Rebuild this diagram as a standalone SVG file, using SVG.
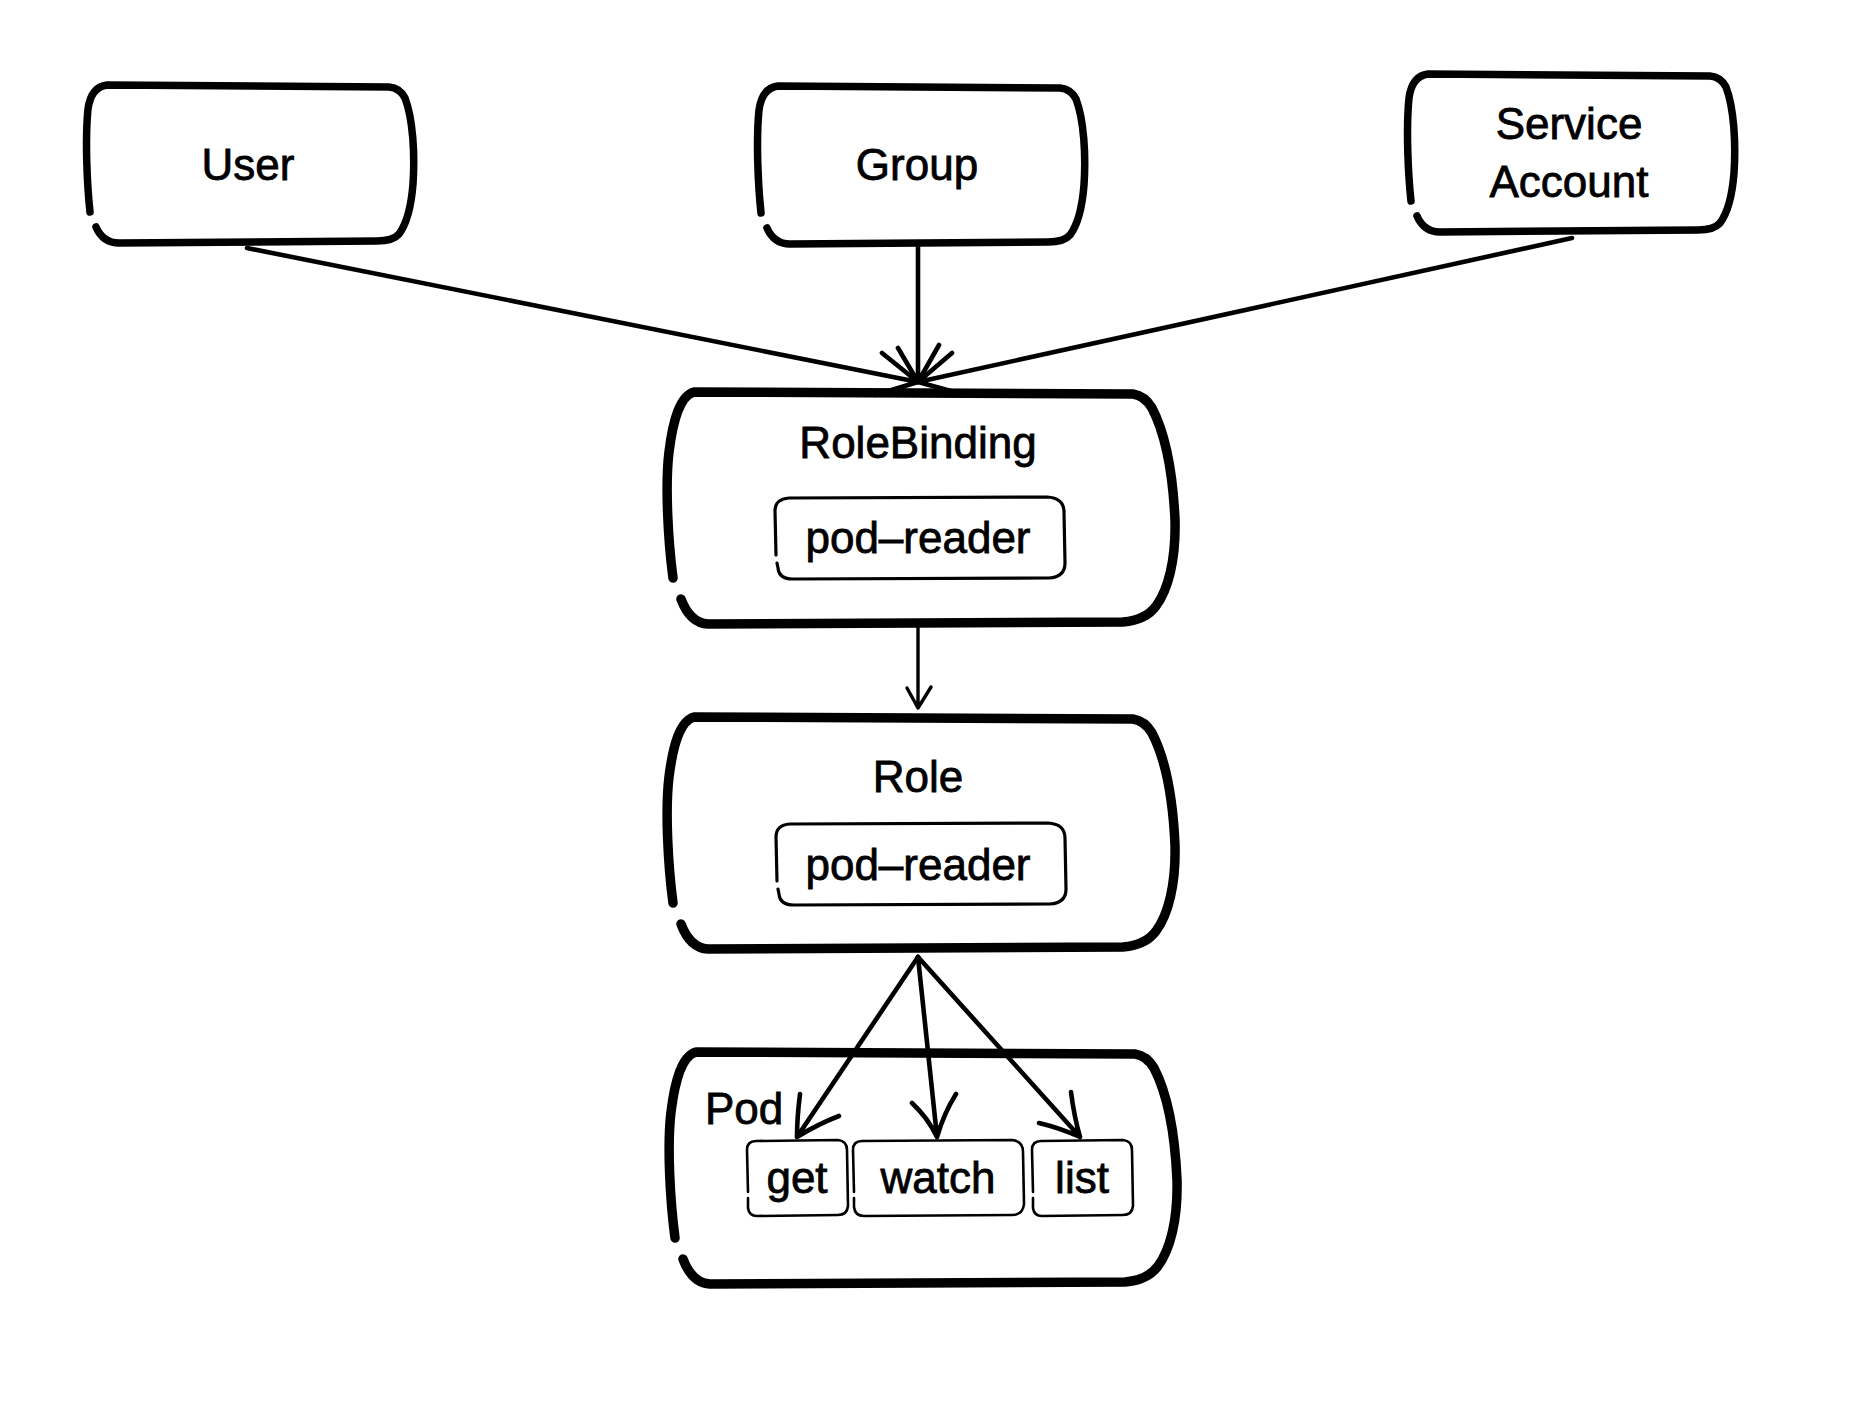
<svg xmlns="http://www.w3.org/2000/svg" xmlns:xlink="http://www.w3.org/1999/xlink" width="1868" height="1418" viewBox="0 0 1868 1418">
<style>
.bg{fill:#ffffff}
.small{fill:none;stroke:#000;stroke-width:7.5;stroke-linecap:round;stroke-linejoin:round}
.big{fill:none;stroke:#000;stroke-width:9.5;stroke-linecap:round;stroke-linejoin:round}
.inner{fill:none;stroke:#000;stroke-width:3.2;stroke-linecap:round;stroke-linejoin:round}
.item{fill:none;stroke:#000;stroke-width:2.6;stroke-linecap:round;stroke-linejoin:round}
.lbl{font-family:"Liberation Sans",Arial,Helvetica,sans-serif;font-size:44px;fill:#000;stroke:#000;stroke-width:0.8;text-anchor:middle}
.lbl-start{font-family:"Liberation Sans",Arial,Helvetica,sans-serif;font-size:44px;fill:#000;stroke:#000;stroke-width:0.8;text-anchor:start}
.conn{fill:none;stroke:#000;stroke-width:4.6;stroke-linecap:round;stroke-linejoin:round}
.conn-thin{fill:none;stroke:#000;stroke-width:3.4;stroke-linecap:round;stroke-linejoin:round}
</style>
<defs>
<path id="smallbox" d="M 3 128 C 0 100, -2 55, 1 25 Q 4 3, 20 1 L 302 3 Q 313 4, 318 14 C 326 35, 328 70, 326 100 C 324 125, 318 142, 312 150 Q 306 157, 290 157 L 32 159 Q 16 159, 9 143"/>
<path id="bigbox" d="M 5 188 C 0 150, -3 95, 1 62 C 5 30, 12 6, 26 2 L 465 4 Q 477 6, 484 18 C 498 45, 505 85, 507 130 C 508 170, 500 200, 488 216 Q 478 230, 455 232 L 40 234 Q 22 233, 13 209"/>
<path id="innerbox" d="M 1 58 L 0 14 Q 0 2, 14 1 L 272 0 Q 289 1, 289 15 L 290 66 Q 290 80, 274 81 L 18 82 Q 4 82, 3 71 L 2 66"/>
</defs>
<rect class="bg" x="0" y="0" width="1868" height="1418"/>

<g id="node-user">
<use xlink:href="#smallbox" href="#smallbox" class="small" x="87" y="84"/>
<text class="lbl" x="248" y="180">User</text>
</g>

<g id="node-group">
<use xlink:href="#smallbox" href="#smallbox" class="small" x="758" y="85"/>
<text class="lbl" x="917" y="180">Group</text>
</g>

<g id="node-serviceaccount">
<use xlink:href="#smallbox" href="#smallbox" class="small" x="1408" y="73"/>
<text class="lbl" x="1569" y="139">Service</text>
<text class="lbl" x="1569" y="197">Account</text>
</g>

<g id="node-rolebinding">
<use xlink:href="#bigbox" href="#bigbox" class="big" x="668" y="390"/>
<text class="lbl" x="918" y="458">RoleBinding</text>
<use xlink:href="#innerbox" href="#innerbox" class="inner" x="775" y="497"/>
<text class="lbl" x="918" y="553">pod–reader</text>
</g>

<g id="node-role">
<use xlink:href="#bigbox" href="#bigbox" class="big" x="668" y="715"/>
<text class="lbl" x="918" y="792">Role</text>
<use xlink:href="#innerbox" href="#innerbox" class="inner" x="776" y="823"/>
<text class="lbl" x="918" y="880">pod–reader</text>
</g>

<g id="node-pod">
<use xlink:href="#bigbox" href="#bigbox" class="big" x="670" y="1050"/>
<text class="lbl-start" x="705" y="1124">Pod</text>
</g>

<g id="node-get">
<path class="item" d="M 748 1192 L 747 1150 Q 747 1141 756 1141 L 838 1140 Q 847 1141 847 1150 L 848 1206 Q 847 1215 838 1215 L 757 1216 Q 749 1216 748 1208 L 748 1198"/>
<text class="lbl" x="797" y="1193">get</text>
</g>

<g id="node-watch">
<path class="item" d="M 854 1192 L 853 1150 Q 853 1141 862 1141 L 1012 1140 Q 1023 1141 1023 1152 L 1024 1204 Q 1023 1215 1012 1215 L 864 1216 Q 855 1216 854 1207 L 854 1198"/>
<text class="lbl" x="938" y="1193">watch</text>
</g>

<g id="node-list">
<path class="item" d="M 1033 1192 L 1032 1150 Q 1032 1141 1041 1141 L 1123 1140 Q 1132 1141 1132 1150 L 1133 1206 Q 1132 1215 1123 1215 L 1042 1216 Q 1034 1216 1033 1208 L 1033 1198"/>
<text class="lbl" x="1082" y="1193">list</text>
</g>

<g id="connectors">
<path class="conn" d="M 247 248 L 918 382 M 882 353 L 918 382 L 875 395"/>
<path class="conn" d="M 918 246 L 918 382 M 898 348 L 918 382 L 939 345"/>
<path class="conn" d="M 1572 238 L 918 382 M 952 353 L 918 382 L 962 394"/>
<path class="conn-thin" d="M 918 627 L 918 708 M 907 688 L 918 708 L 931 687"/>
<path class="conn" d="M 918 957 L 797 1137 M 800 1094 Q 797 1118 797 1137 Q 818 1124 839 1116"/>
<path class="conn" d="M 918 957 L 937 1137 M 912 1103 Q 928 1118 937 1137 Q 944 1113 956 1094"/>
<path class="conn" d="M 918 957 L 1080 1137 M 1071 1092 Q 1074 1116 1080 1137 Q 1060 1128 1039 1123"/>
</g>
</svg>
